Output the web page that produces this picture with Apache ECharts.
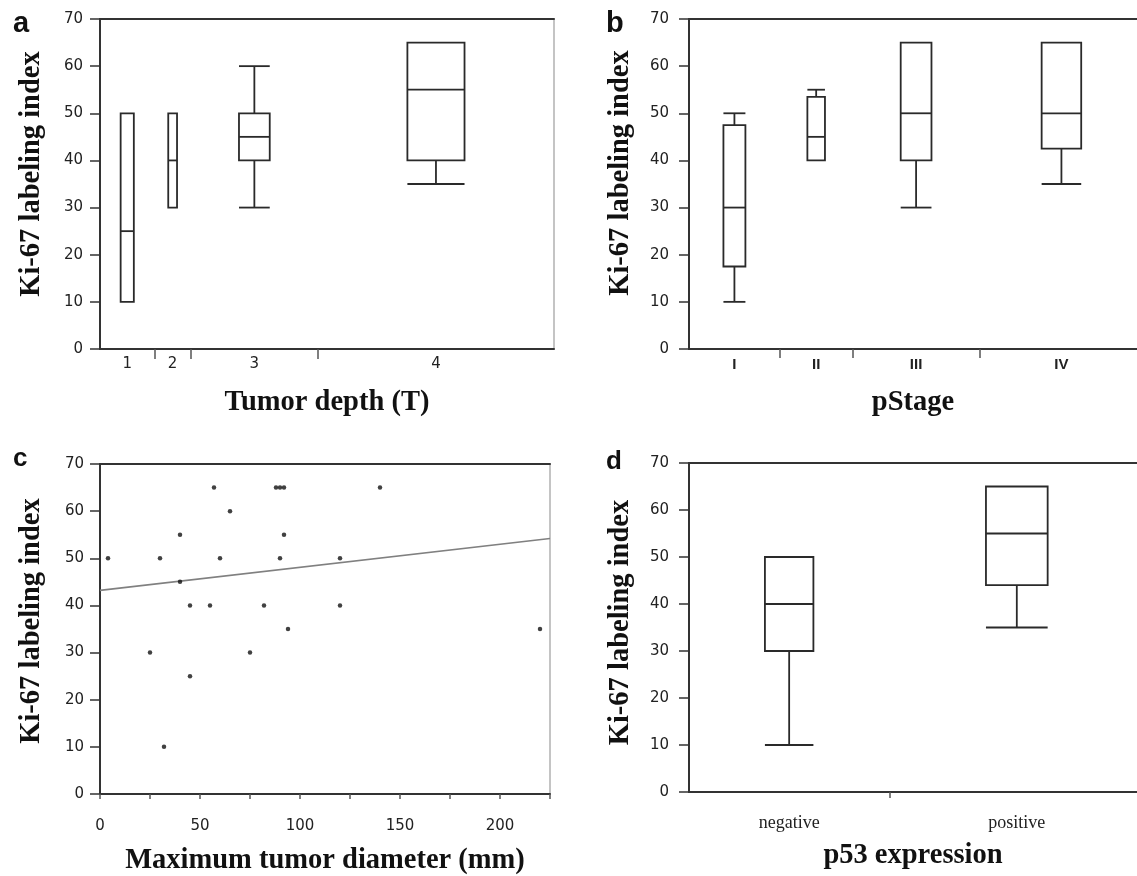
<!DOCTYPE html>
<html>
<head>
<meta charset="utf-8">
<script src="https://cdn.jsdelivr.net/npm/echarts@6/dist/echarts.min.js"></script>
<style>
html,body{margin:0;padding:0;background:#fff;}
#chart{width:1137px;height:876px;}
</style>
</head>
<body>
<div id="chart"></div>
<script>
// ---------- DATA ----------
// Panel a: Tumor depth (T)
const depthLabels = ['1', '2', '3', '4'];
const depthN = [3, 2, 7, 13];               // category widths (sample sizes)
const depthStats = [                         // [whiskerLow, Q1, median, Q3, whiskerHigh]
  [10, 10, 25, 50, 50],
  [30, 30, 40, 50, 50],
  [30, 40, 45, 50, 60],
  [35, 40, 55, 65, 65]
];
// Panel b: pStage
const stageLabels = ['I', 'II', 'III', 'IV'];
const stageN = [5, 4, 7, 9];
const stageStats = [
  [10, 17.5, 30, 47.5, 50],
  [40, 40, 45, 53.5, 55],
  [30, 40, 50, 65, 65],
  [35, 42.5, 50, 65, 65]
];
// Panel c: Maximum tumor diameter vs Ki-67
const diamX = [4, 30, 25, 32, 40, 40, 45, 45, 55, 57, 60, 65, 75, 82, 88, 90, 92, 90, 92, 94, 120, 120, 140, 220];
const kiY   = [50, 50, 30, 10, 55, 45, 40, 25, 40, 65, 50, 60, 30, 40, 65, 65, 65, 50, 55, 35, 50, 40, 65, 35];
const fitX = [0, 225];
const fitY = [43.2, 54.2];
const diamTicks = [0, 50, 100, 150, 200];
// Panel d: p53 expression
const p53Labels = ['negative', 'positive'];
const p53N = [11, 14];
const p53Stats = [
  [10, 30, 40, 50, 50],
  [35, 44, 55, 65, 65]
];

// ---------- HELPERS ----------
const BOX_FRAC = 0.242;
function boxData(ns, stats) {
  let start = 0;
  return ns.map((n, i) => {
    const c = start + n / 2;
    start += n;
    return [c].concat(stats[i]).concat([n * BOX_FRAC / 2]);
  });
}
function centers(ns) { let s = 0; return ns.map(n => { const c = s + n / 2; s += n; return c; }); }
function bounds(ns) { let s = 0; const b = []; ns.forEach((n, i) => { s += n; if (i < ns.length - 1) b.push(s); }); return b; }

const STROKE = '#2a2a2a';
const LW = 1.8;
function renderBox(params, api) {
  const c = api.value(0), lo = api.value(1), q1 = api.value(2), med = api.value(3), q3 = api.value(4), hi = api.value(5), hw = api.value(6);
  const L = api.coord([c - hw, 0])[0], R = api.coord([c + hw, 0])[0], C = api.coord([c, 0])[0];
  const y = v => api.coord([c, v])[1];
  const ls = { stroke: STROKE, lineWidth: LW };
  const ch = [
    { type: 'rect', shape: { x: L, y: y(q3), width: R - L, height: y(q1) - y(q3) }, style: { stroke: STROKE, lineWidth: LW, fill: '#fff' } },
    { type: 'line', shape: { x1: L, y1: y(med), x2: R, y2: y(med) }, style: ls }
  ];
  if (hi > q3) {
    ch.push({ type: 'line', shape: { x1: C, y1: y(q3), x2: C, y2: y(hi) }, style: ls });
    ch.push({ type: 'line', shape: { x1: L, y1: y(hi), x2: R, y2: y(hi) }, style: ls });
  }
  if (lo < q1) {
    ch.push({ type: 'line', shape: { x1: C, y1: y(q1), x2: C, y2: y(lo) }, style: ls });
    ch.push({ type: 'line', shape: { x1: L, y1: y(lo), x2: R, y2: y(lo) }, style: ls });
  }
  return { type: 'group', children: ch };
}

const AX = '#333';
const tickFont = { fontFamily: 'DejaVu Sans', fontSize: 15, color: '#222' };
const titleFontX = { fontFamily: 'Liberation Serif', fontWeight: 'bold', fontSize: 28.5, color: '#111' };

function yAxisPair(gi, nameShift, margin, rightBorder) {
  return [
    {
      gridIndex: gi, type: 'value', min: 0, max: 70, interval: 10,
      axisLine: { show: true, onZero: false, lineStyle: { color: AX, width: 2 } },
      axisTick: { show: true, length: 10, lineStyle: { color: AX, width: 1.5 } },
      axisLabel: Object.assign({ margin: margin }, tickFont),
      splitLine: { show: false },
      name: 'Ki-67 labeling index', nameLocation: 'middle', nameGap: 54,
      nameTextStyle: { fontFamily: 'Liberation Serif', fontWeight: 'bold', fontSize: 28.5, color: '#111', padding: [0, 0, 0, nameShift] }
    },
    {
      gridIndex: gi, type: 'value', min: 0, max: 70, position: 'right',
      axisLine: { show: rightBorder, onZero: false, lineStyle: { color: '#b0b0b0', width: 1.5 } },
      axisTick: { show: false }, axisLabel: { show: false }, splitLine: { show: false }
    }
  ];
}
function topAxis(gi, max) {
  return {
    gridIndex: gi, type: 'value', min: 0, max: max, position: 'top',
    axisLine: { show: true, onZero: false, lineStyle: { color: AX, width: 2 } },
    axisTick: { show: false }, axisLabel: { show: false }, splitLine: { show: false }
  };
}
function catAxis(gi, ns, labels, max, labelStyle, margin, tickLen, name, nameGap) {
  const cs = centers(ns);
  return {
    gridIndex: gi, type: 'value', min: 0, max: max,
    axisLine: { show: true, onZero: false, lineStyle: { color: AX, width: 2 } },
    axisTick: { show: true, customValues: bounds(ns), length: tickLen, lineStyle: { color: '#555', width: 1.5 } },
    axisLabel: Object.assign({
      customValues: cs, margin: margin,
      formatter: v => { const i = cs.findIndex(c => Math.abs(c - v) < 1e-6); return i >= 0 ? labels[i] : ''; }
    }, labelStyle),
    splitLine: { show: false },
    name: name, nameLocation: 'middle', nameGap: nameGap, nameTextStyle: titleFontX
  };
}

const panelFontAB = { fontFamily: 'Liberation Sans', fontWeight: 'bold', fontSize: 29, color: '#111' };
const panelFontCD = { fontFamily: 'Liberation Sans', fontWeight: 'bold', fontSize: 26, color: '#111' };
const option = {
  backgroundColor: '#fff',
  animation: false,
  title: [
    { text: 'a', left: 13, top: 9, padding: 0, textStyle: panelFontAB },
    { text: 'b', left: 606, top: 9, padding: 0, textStyle: panelFontAB },
    { text: 'c', left: 13, top: 446, padding: 0, textStyle: panelFontCD },
    { text: 'd', left: 606, top: 449, padding: 0, textStyle: panelFontCD }
  ],
  grid: [
    { left: 100, top: 19, width: 454, height: 330 },
    { left: 689, top: 19, width: 448, height: 330 },
    { left: 100, top: 464, width: 450, height: 331 },
    { left: 689, top: 463, width: 448, height: 329 }
  ],
  xAxis: [
    catAxis(0, depthN, depthLabels, 25, tickFont, 8, 10, 'Tumor depth (T)', 39),
    topAxis(0, 25),
    catAxis(1, stageN, stageLabels, 24.66, { fontFamily: 'Liberation Sans', fontWeight: 'bold', fontSize: 15, color: '#222', lineHeight: 18 }, 7, 9, 'pStage', 39),
    topAxis(1, 24.66),
    {
      gridIndex: 2, type: 'value', min: 0, max: 225, interval: 25,
      axisLine: { show: true, onZero: false, lineStyle: { color: AX, width: 2 } },
      axisTick: { show: true, length: 5, lineStyle: { color: '#555', width: 1.5 } },
      axisLabel: Object.assign({ margin: 25, formatter: v => diamTicks.includes(v) ? String(v) : '' }, tickFont),
      splitLine: { show: false },
      name: 'Maximum tumor diameter (mm)', nameLocation: 'middle', nameGap: 52, nameTextStyle: titleFontX
    },
    topAxis(2, 225),
    catAxis(3, p53N, p53Labels, 24.6, { fontFamily: 'Liberation Serif', fontSize: 18, color: '#222' }, 22, 6, 'p53 expression', 49),
    topAxis(3, 24.6)
  ],
  yAxis: [].concat(yAxisPair(0, 20, 17, true), yAxisPair(1, 22, 20, false), yAxisPair(2, 16, 16, true), yAxisPair(3, 10, 20, false)),
  series: [
    { type: 'custom', xAxisIndex: 0, yAxisIndex: 0, renderItem: renderBox, data: boxData(depthN, depthStats), encode: { x: 0, y: [1, 2, 3, 4, 5] } },
    { type: 'custom', xAxisIndex: 2, yAxisIndex: 2, renderItem: renderBox, data: boxData(stageN, stageStats), encode: { x: 0, y: [1, 2, 3, 4, 5] } },
    {
      type: 'line', xAxisIndex: 4, yAxisIndex: 4, data: fitX.map((x, i) => [x, fitY[i]]),
      symbol: 'none', lineStyle: { color: '#808080', width: 1.6 }, z: 1
    },
    {
      type: 'scatter', xAxisIndex: 4, yAxisIndex: 4, data: diamX.map((x, i) => [x, kiY[i]]),
      symbol: 'circle', symbolSize: 4.5, itemStyle: { color: '#111' }, z: 3
    },
    { type: 'custom', xAxisIndex: 6, yAxisIndex: 6, renderItem: renderBox, data: boxData(p53N, p53Stats), encode: { x: 0, y: [1, 2, 3, 4, 5] } }
  ]
};
const chart = echarts.init(document.getElementById('chart'), null, { renderer: 'canvas' });
chart.setOption(option);
</script>
</body>
</html>
